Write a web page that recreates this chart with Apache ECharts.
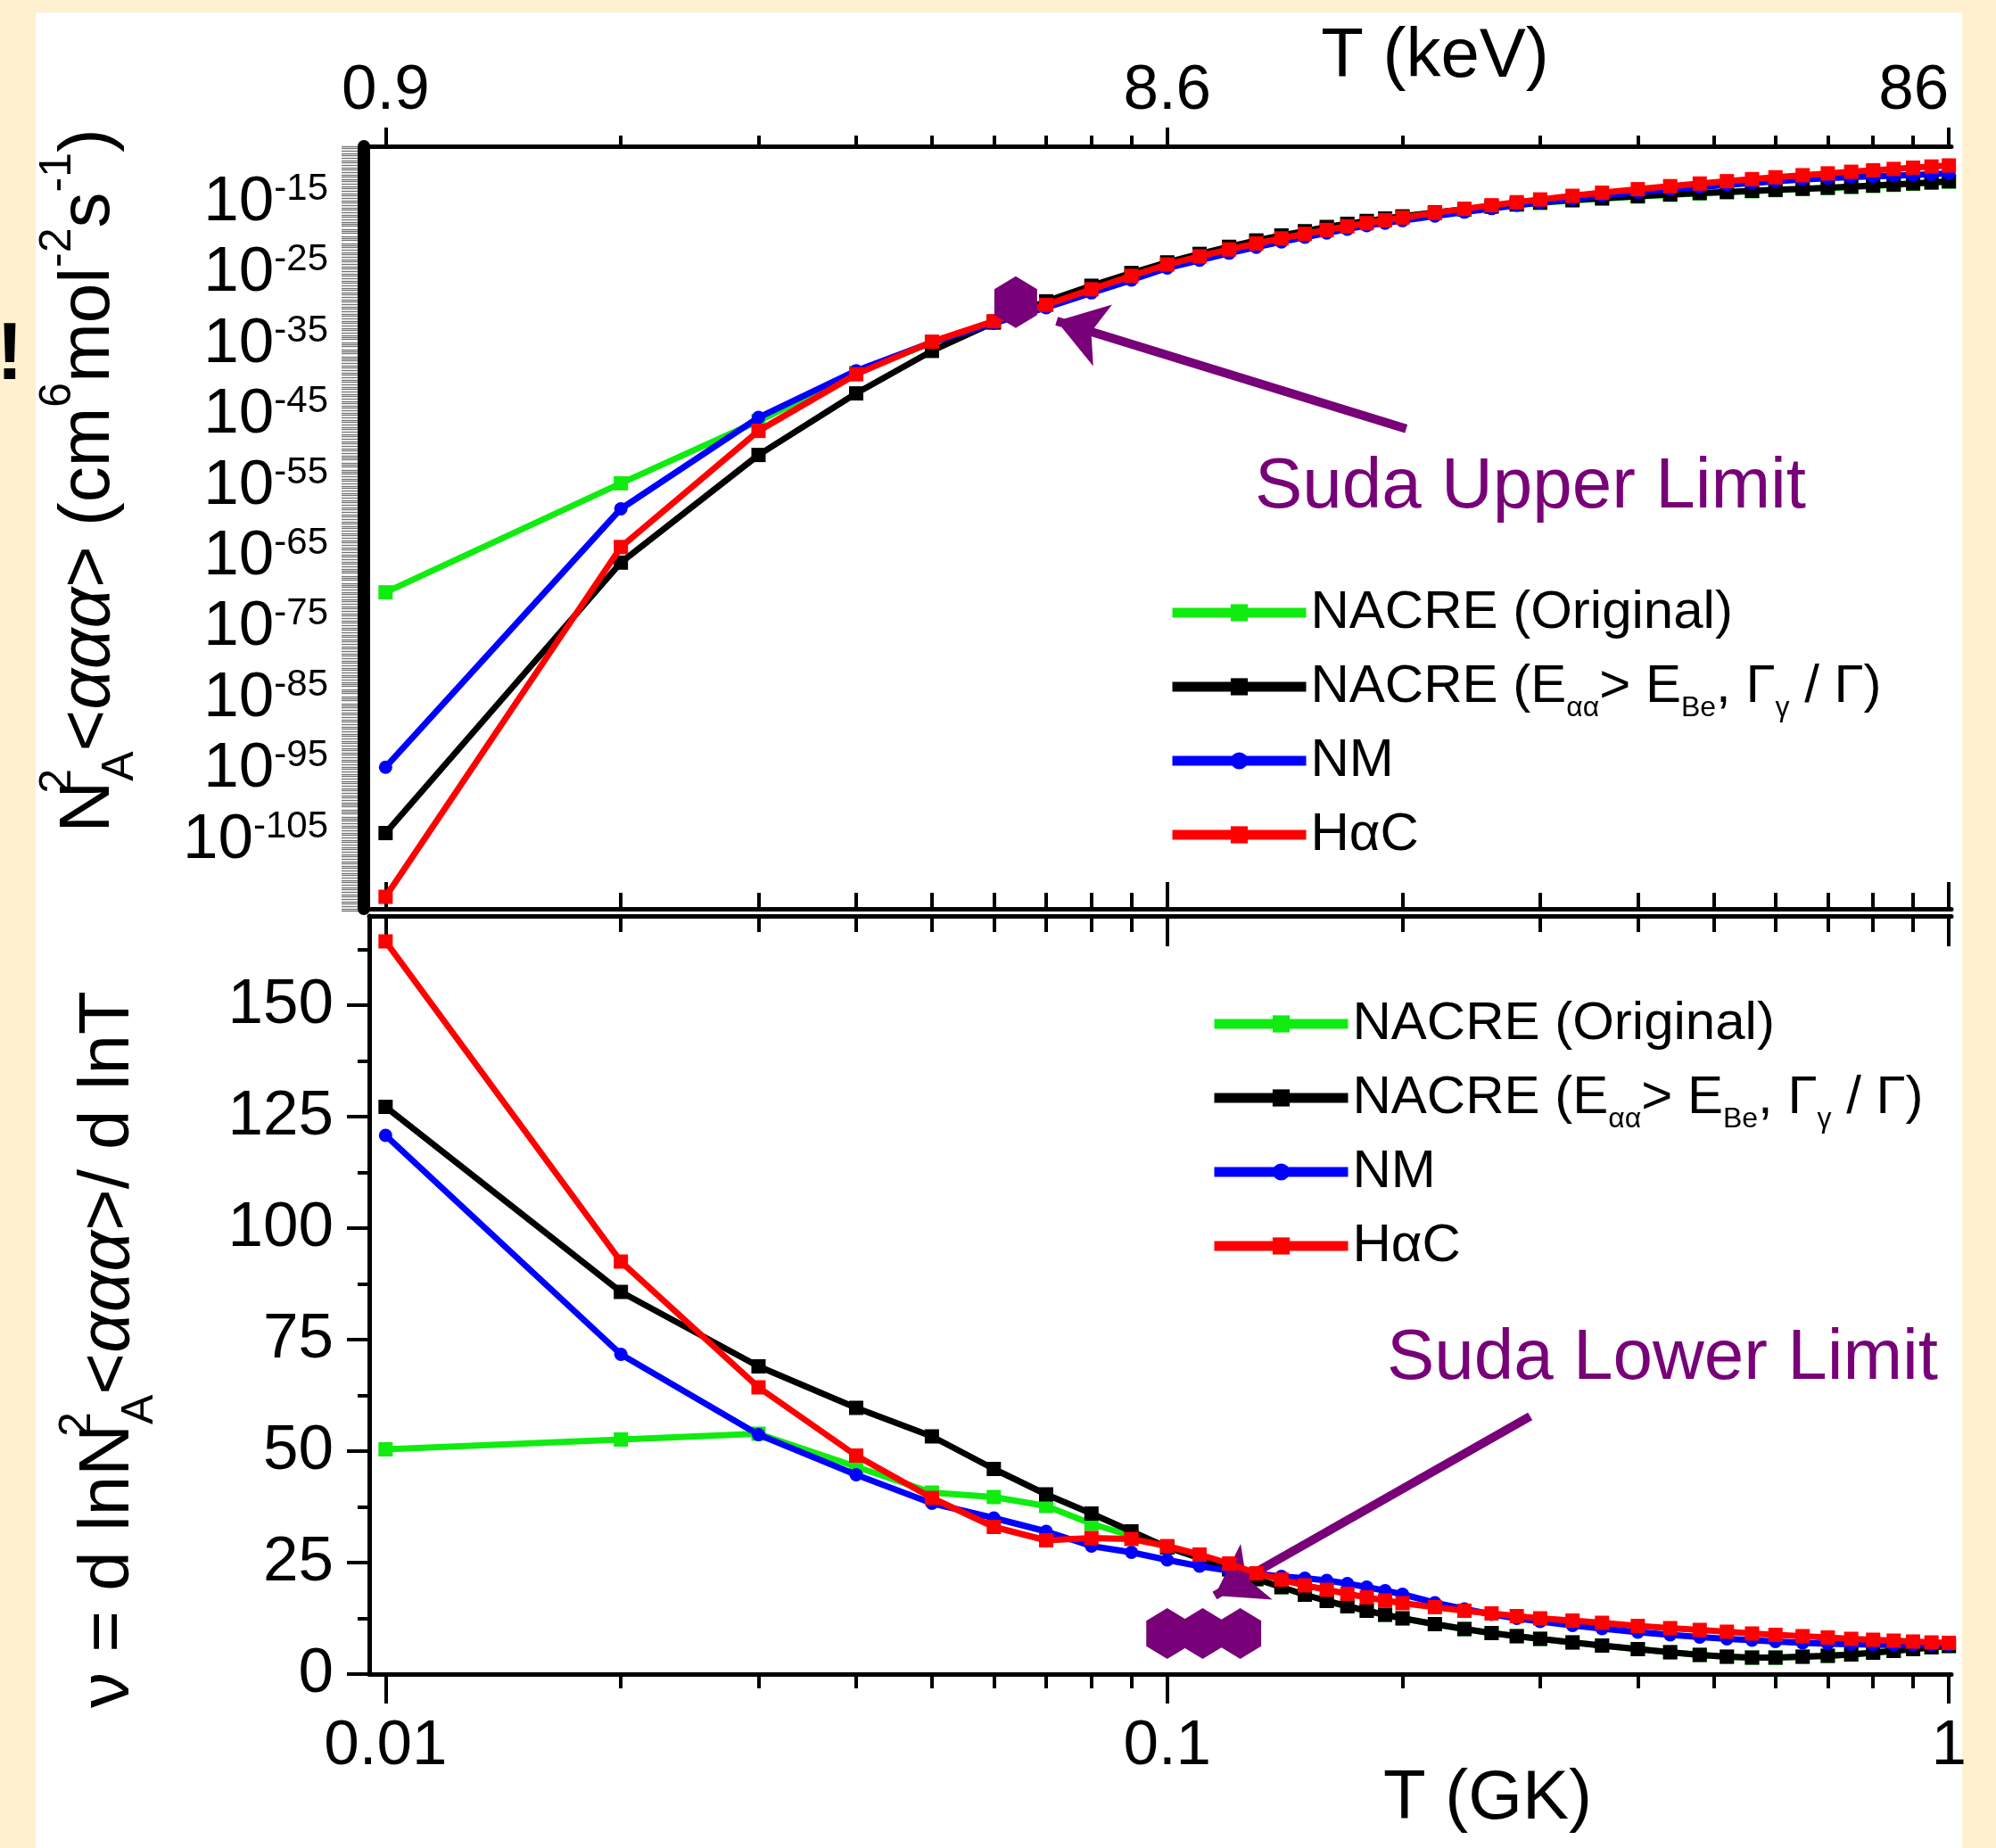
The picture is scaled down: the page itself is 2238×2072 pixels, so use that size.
<!DOCTYPE html>
<html>
<head>
<meta charset="utf-8">
<script src="https://cdn.jsdelivr.net/npm/echarts@6/dist/echarts.min.js"></script>
<style>
  html, body { margin: 0; padding: 0; background: #fff1cf; }
  #chart { width: 2238px; height: 2072px; }
</style>
</head>
<body>
<div id="chart"></div>
<script>
// ---- data -------------------------------------------------------------
// Temperature grid (GK) shared by every curve
const temperatureGK = [0.01,0.02,0.03,0.04,0.05,0.06,0.07,0.08,0.09,0.10,
  0.11,0.12,0.13,0.14,0.15,0.16,0.17,0.18,0.19,0.20,
  0.22,0.24,0.26,0.28,0.30,
  0.33,0.36,0.40,0.44,0.48,0.52,0.56,0.60,
  0.65,0.70,0.75,0.80,0.85,0.90,0.95,1.00];

// Upper panel: log10 of N_A^2<aaa> (cm^6 mol^-2 s^-1)
const log10Rate_nacreOriginal = [-70.0,-54.6,-45.8,-39.0,-34.7,-31.8,-29.1,-26.9,-25.0,-23.5,
  -22.25,-21.25,-20.35,-19.65,-19.05,-18.45,-18.0,-17.6,-17.25,-16.95,
  -16.4,-15.95,-15.55,-15.25,-15.0,
  -14.65,-14.4,-14.1,-13.85,-13.65,-13.5,-13.35,-13.2,
  -13.05,-12.9,-12.75,-12.6,-12.45,-12.3,-12.15,-12.0];
const log10Rate_nacreModified = [-104.0,-65.8,-50.6,-41.9,-35.9,-31.9,-28.9,-26.7,-24.9,-23.4,
  -22.2,-21.2,-20.3,-19.6,-19.0,-18.4,-17.95,-17.55,-17.2,-16.9,
  -16.35,-15.9,-15.5,-15.2,-14.95,
  -14.6,-14.35,-14.05,-13.8,-13.6,-13.45,-13.3,-13.15,
  -13.0,-12.85,-12.7,-12.55,-12.4,-12.25,-12.1,-11.95];
const log10Rate_nm = [-94.7,-58.2,-45.3,-38.7,-34.7,-32.0,-29.8,-27.7,-25.9,-24.2,
  -23.1,-22.1,-21.25,-20.5,-19.85,-19.25,-18.7,-18.2,-17.85,-17.5,
  -16.85,-16.3,-15.8,-15.35,-14.95,
  -14.45,-14.0,-13.5,-13.1,-12.75,-12.45,-12.2,-11.95,
  -11.7,-11.5,-11.35,-11.25,-11.15,-11.05,-10.95,-10.85];
const log10Rate_hac = [-113.0,-63.6,-47.2,-39.2,-34.6,-31.7,-29.4,-27.2,-25.3,-23.7,
  -22.55,-21.57,-20.73,-20.01,-19.37,-18.81,-18.31,-17.86,-17.45,-17.07,
  -16.40,-15.83,-15.33,-14.90,-14.51,
  -14.00,-13.56,-13.06,-12.63,-12.26,-11.93,-11.64,-11.38,
  -11.09,-10.83,-10.60,-10.39,-10.20,-10.02,-9.86,-9.71];

// Lower panel: temperature sensitivity nu = d ln rate / d ln T
const nu_nacreOriginal = [50.4,52.6,53.9,46.5,40.7,39.7,37.7,33.7,31.0,28.5,
  26.0,23.5,21.3,19.5,17.8,16.4,15.2,14.2,13.3,12.5,
  11.2,10.1,9.2,8.5,7.9,
  7.1,6.4,5.6,4.9,4.3,3.9,3.7,3.7,
  3.9,4.1,4.4,4.8,5.2,5.6,6.0,6.3];
const nu_nacreModified = [127.2,85.7,69.0,59.7,53.3,46.0,40.3,36.0,32.0,28.4,
  26.0,23.5,21.3,19.5,17.8,16.4,15.2,14.2,13.3,12.5,
  11.2,10.1,9.2,8.5,7.9,
  7.1,6.4,5.6,4.9,4.3,3.9,3.7,3.7,
  3.9,4.1,4.4,4.8,5.2,5.6,6.0,6.3];
const nu_nm = [120.8,71.7,53.7,44.7,38.3,35.0,32.0,28.7,27.3,25.6,
  24.2,23.2,22.5,21.9,21.5,21.0,20.3,19.5,18.7,17.9,
  16.0,14.6,13.4,12.5,11.8,
  10.9,10.2,9.4,8.8,8.3,7.9,7.6,7.3,
  7.0,6.8,6.7,6.6,6.5,6.5,6.5,6.5];
const nu_hac = [164.3,92.5,64.3,49.0,39.5,33.0,30.0,30.5,30.3,28.7,
  26.8,24.8,22.6,21.2,19.9,18.9,18.0,17.2,16.5,15.9,
  15.0,14.2,13.6,13.0,12.5,
  12.0,11.5,10.8,10.3,9.9,9.5,9.1,8.8,
  8.5,8.2,7.9,7.7,7.5,7.3,7.1,7.0];

// Suda limits
const sudaUpperT = [0.064];
const sudaUpperLog10Rate = [-29.0];
const sudaLowerT = [0.100, 0.111, 0.124];
const sudaLowerNu = [9.1, 9.1, 9.1];

// Arrow end points [T, value] (tail, head)
const upperArrowT = [0.2022, 0.0722];
const upperArrowLog10Rate = [-46.9, -31.7];
const lowerArrowT = [0.2913, 0.115];
const lowerArrowNu = [57.8, 17.6];

// Series names
const seriesNames = ['NACRE (Original)', 'NACRE (E\u03b1\u03b1 > EBe, \u0393\u03b3 / \u0393)', 'NM', 'H\u03b1C'];

// Tick labels
const majorTickT = [0.01, 0.1, 1];
const keVTickLabels = ['0.9', '8.6', '86'];
const gkTickLabels = ['0.01', '0.1', '1'];
const rateLabelExponents = [-15, -25, -35, -45, -55, -65, -75, -85, -95, -105];
const nuTickValues = [0, 25, 50, 75, 100, 125, 150];

// ---- styling ---------------------------------------------------------
const FONT = '"Liberation Sans", Arial, Helvetica, sans-serif';
const GREEN = '#10ec10', BLACK = '#000000', BLUE = '#0000ff', RED = '#ff0000';
const PURPLE = '#780078';
const seriesColors = [GREEN, BLACK, BLUE, RED];
const seriesSymbols = ['rect', 'rect', 'circle', 'rect'];
const seriesSymbolSizes = [16, 16, 15, 16];

const X_MIN = 0.00953, X_MAX = 1.0075;
const RATE_MIN = Math.pow(10, -114.7), RATE_MAX = 1e-7;

const minorTickT = [];
[0.01, 0.1].forEach(d => { for (let k = 2; k <= 9; k++) minorTickT.push(+(d * k).toFixed(4)); });

// dense tick marks on the logarithmic rate axis (1, 2, 5 in each decade)
const rateTickValues = [];
for (let e = -115; e <= -7; e++) {
  [1, 2, 5].forEach(k => rateTickValues.push(k * Math.pow(10, e)));
}
const nuMinorTicks = [12.5, 37.5, 62.5, 87.5, 112.5, 137.5, 162.5];

function tIndex(v) {
  return majorTickT.findIndex(t => Math.abs(Math.log10(t / v)) < 1e-6);
}

function xAxisDef(grid, position, opts) {
  return Object.assign({
    type: 'log', logBase: 10, gridIndex: grid, position: position,
    min: X_MIN, max: X_MAX,
    splitLine: { show: false },
    axisLine: { show: false, onZero: false, lineStyle: { color: '#000', width: 5 } },
    axisLabel: { show: false },
    axisTick: { show: false }
  }, opts);
}

const xAxes = [
  // upper panel, top edge: keV labels + major ticks
  xAxisDef(0, 'top', {
    axisLine: { show: true, onZero: false, lineStyle: { color: '#000', width: 5 } },
    axisTick: { show: true, inside: false, length: 21, customValues: majorTickT, lineStyle: { color: '#000', width: 4 } },
    axisLabel: { show: true, customValues: majorTickT, margin: 26, fontSize: 71, fontFamily: FONT, color: '#000',
      interval: 0, showMinLabel: true, showMaxLabel: true,
      alignMaxLabel: 'right', formatter: v => keVTickLabels[tIndex(v)] }
  }),
  xAxisDef(0, 'top', {
    axisTick: { show: true, inside: false, length: 12, customValues: minorTickT, lineStyle: { color: '#000', width: 4 } }
  }),
  // upper panel, bottom edge
  xAxisDef(0, 'bottom', {
    axisLine: { show: true, onZero: false, lineStyle: { color: '#000', width: 5 } },
    axisTick: { show: true, inside: true, length: 30, customValues: majorTickT, lineStyle: { color: '#000', width: 4 } }
  }),
  xAxisDef(0, 'bottom', {
    axisTick: { show: true, inside: true, length: 18, customValues: minorTickT, lineStyle: { color: '#000', width: 4 } }
  }),
  // lower panel, bottom edge: GK labels
  xAxisDef(1, 'bottom', {
    axisLine: { show: true, onZero: false, lineStyle: { color: '#000', width: 5 } },
    axisTick: { show: true, inside: false, length: 33, customValues: majorTickT, lineStyle: { color: '#000', width: 4 } },
    axisLabel: { show: true, customValues: majorTickT, margin: 46, fontSize: 71, fontFamily: FONT, color: '#000',
      interval: 0, showMinLabel: true, showMaxLabel: true,
      formatter: v => gkTickLabels[tIndex(v)] }
  }),
  xAxisDef(1, 'bottom', {
    axisTick: { show: true, inside: false, length: 16, customValues: minorTickT, lineStyle: { color: '#000', width: 4 } }
  }),
  // lower panel, top edge
  xAxisDef(1, 'top', {
    axisLine: { show: true, onZero: false, lineStyle: { color: '#000', width: 5 } },
    axisTick: { show: true, inside: true, length: 34, customValues: majorTickT, lineStyle: { color: '#000', width: 4 } }
  }),
  xAxisDef(1, 'top', {
    axisTick: { show: true, inside: true, length: 18, customValues: minorTickT, lineStyle: { color: '#000', width: 4 } }
  })
];

const yAxes = [
  {
    type: 'log', logBase: 10, gridIndex: 0, position: 'left', offset: 6,
    min: RATE_MIN, max: RATE_MAX,
    splitLine: { show: false },
    axisLine: { show: true, onZero: false, lineStyle: { color: '#000', width: 14 } },
    axisTick: { show: true, inside: false, length: 25, customValues: rateTickValues,
      lineStyle: { color: '#000', width: 1.3, opacity: 0.55 } },
    axisLabel: {
      show: true, margin: 40, color: '#000', fontFamily: FONT,
      interval: 0, showMinLabel: true, showMaxLabel: true, hideOverlap: false,
      customValues: rateLabelExponents.map(e => Math.pow(10, e)),
      formatter: v => '{b|10}{p|' + Math.round(Math.log10(v)) + '}',
      rich: {
        b: { fontSize: 71, fontFamily: FONT, lineHeight: 72, color: '#000' },
        p: { fontSize: 42, fontFamily: FONT, lineHeight: 24, verticalAlign: 'top', color: '#000' }
      }
    }
  },
  {
    type: 'value', gridIndex: 1, position: 'left', min: 0, max: 170,
    splitLine: { show: false },
    axisLine: { show: true, onZero: false, lineStyle: { color: '#000', width: 5 } },
    axisTick: { show: true, inside: false, length: 25, customValues: nuTickValues, lineStyle: { color: '#000', width: 4 } },
    axisLabel: { show: true, margin: 40, customValues: nuTickValues, fontSize: 71, fontFamily: FONT, color: '#000',
      interval: 0, showMinLabel: true, showMaxLabel: true }
  },
  {
    type: 'value', gridIndex: 1, position: 'left', min: 0, max: 170,
    splitLine: { show: false },
    axisLine: { show: false },
    axisLabel: { show: false },
    axisTick: { show: true, inside: false, length: 13, customValues: nuMinorTicks, lineStyle: { color: '#000', width: 4 } }
  }
];

// ---- series ----------------------------------------------------------
const rateSets = [log10Rate_nacreOriginal, log10Rate_nacreModified, log10Rate_nm, log10Rate_hac];
const nuSets = [nu_nacreOriginal, nu_nacreModified, nu_nm, nu_hac];

const series = [];
seriesNames.forEach((name, i) => {
  const common = {
    type: 'line', name: name, symbol: seriesSymbols[i], symbolSize: seriesSymbolSizes[i],
    lineStyle: { color: seriesColors[i], width: 7 },
    itemStyle: { color: seriesColors[i] },
    z: 2 + i, silent: true
  };
  series.push(Object.assign({}, common, {
    xAxisIndex: 0, yAxisIndex: 0,
    data: temperatureGK.map((t, k) => [t, Math.pow(10, rateSets[i][k])])
  }));
  series.push(Object.assign({}, common, {
    xAxisIndex: 4, yAxisIndex: 1,
    data: temperatureGK.map((t, k) => [t, nuSets[i][k]])
  }));
});

const HEXAGON = 'path://M0,-1 L0.866,-0.5 L0.866,0.5 L0,1 L-0.866,0.5 L-0.866,-0.5 Z';
const arrowLine = (from, to) => ({
  silent: true, symbol: ['none', 'arrow'], symbolSize: 54,
  label: { show: false },
  lineStyle: { color: PURPLE, width: 10, type: 'solid', opacity: 1 },
  itemStyle: { color: PURPLE },
  data: [[{ coord: from }, { coord: to }]]
});

series.push({
  type: 'scatter', name: 'Suda Upper Limit', xAxisIndex: 0, yAxisIndex: 0, z: 10, silent: true,
  symbol: HEXAGON, symbolSize: [48, 58], itemStyle: { color: PURPLE, opacity: 1 },
  data: sudaUpperT.map((t, k) => [t, Math.pow(10, sudaUpperLog10Rate[k])]),
  markLine: arrowLine([upperArrowT[0], Math.pow(10, upperArrowLog10Rate[0])],
                      [upperArrowT[1], Math.pow(10, upperArrowLog10Rate[1])])
});
series.push({
  type: 'scatter', name: 'Suda Lower Limit', xAxisIndex: 4, yAxisIndex: 1, z: 10, silent: true,
  symbol: HEXAGON, symbolSize: [47, 57], itemStyle: { color: PURPLE, opacity: 1 },
  data: sudaLowerT.map((t, k) => [t, sudaLowerNu[k]]),
  markLine: arrowLine([lowerArrowT[0], lowerArrowNu[0]], [lowerArrowT[1], lowerArrowNu[1]])
});

// ---- legends ---------------------------------------------------------
const legendRich = {
  t: { fontSize: 60, fontFamily: FONT, lineHeight: 80, color: '#000' },
  s: { fontSize: 32, fontFamily: FONT, lineHeight: 40, verticalAlign: 'bottom', color: '#000' }
};
const legendText = {};
legendText[seriesNames[1]] = '{t|NACRE (E}{s|\u03b1\u03b1}{t|> E}{s|Be}{t|, \u0393}{s|\u03b3}{t| / \u0393)}';
const legendDef = (left, top) => ({
  data: seriesNames, orient: 'vertical', left: left, top: top,
  itemWidth: 150, itemHeight: 24, itemGap: 3, selectedMode: false,
  lineStyle: { width: 11 },
  formatter: name => legendText[name] || ('{t|' + name + '}'),
  textStyle: { fontSize: 60, fontFamily: FONT, color: '#000', lineHeight: 80, rich: legendRich }
});

// ---- annotations -----------------------------------------------------
const titleRich = {
  b: { fontSize: 80, fontFamily: FONT, lineHeight: 120, fill: '#000' },
  i: { fontSize: 80, fontFamily: FONT, fontStyle: 'italic', lineHeight: 120, fill: '#000' },
  p: { fontSize: 50, fontFamily: FONT, lineHeight: 50, verticalAlign: 'top', fill: '#000' },
  p0: { fontSize: 50, fontFamily: FONT, lineHeight: 50, verticalAlign: 'top', width: 0, fill: '#000' },
  q: { fontSize: 50, fontFamily: FONT, lineHeight: 50, verticalAlign: 'bottom', fill: '#000' }
};

const graphics = [
  { type: 'rect', z: -10, silent: true, shape: { x: 40, y: 14, width: 2160, height: 2058 }, style: { fill: '#ffffff' } },
  { type: 'text', silent: true, x: -4, y: 400,
    style: { text: '!', fontSize: 90, fontWeight: 'bold', fontFamily: FONT, fill: '#000', align: 'left', verticalAlign: 'middle' } },
  { type: 'text', silent: true, x: 1609, y: 64,
    style: { text: 'T (keV)', fontSize: 78, fontFamily: FONT, fill: '#000', align: 'center', verticalAlign: 'middle' } },
  { type: 'text', silent: true, x: 1668, y: 2017,
    style: { text: 'T (GK)', fontSize: 78, fontFamily: FONT, fill: '#000', align: 'center', verticalAlign: 'middle' } },
  { type: 'text', silent: true, x: 100, y: 539, rotation: Math.PI / 2,
    style: { text: '{b|N}{p0|2}{q|A}{b|<}{i|\u03b1\u03b1\u03b1}{b|> (cm}{p|6}{b|mol}{p|-2}{b|s}{p|-1}{b|)}',
      rich: titleRich, fill: '#000', align: 'center', verticalAlign: 'middle' } },
  { type: 'text', silent: true, x: 122, y: 1513, rotation: Math.PI / 2,
    style: { text: '{b|\u03bd = d lnN}{p0|2}{q|A}{b|<}{i|\u03b1\u03b1\u03b1}{b|>/ d lnT}',
      rich: titleRich, fill: '#000', align: 'center', verticalAlign: 'middle' } },
  { type: 'text', silent: true, x: 1716, y: 547,
    style: { text: 'Suda Upper Limit', fontSize: 80, fontFamily: FONT, fill: PURPLE, align: 'center', verticalAlign: 'middle' } },
  { type: 'text', silent: true, x: 1864, y: 1524,
    style: { text: 'Suda Lower Limit', fontSize: 80, fontFamily: FONT, fill: PURPLE, align: 'center', verticalAlign: 'middle' } }
];

const chart = echarts.init(document.getElementById('chart'), null, { renderer: 'canvas' });
chart.setOption({
  animation: false,
  backgroundColor: '#fff1cf',
  textStyle: { fontFamily: FONT },
  grid: [
    { left: 414, right: 50, top: 164, height: 855 },
    { left: 414, right: 50, top: 1027, height: 850 }
  ],
  xAxis: xAxes,
  yAxis: yAxes,
  legend: [legendDef(1304, 642), legendDef(1351, 1103)],
  graphic: graphics,
  series: series
});
</script>
</body>
</html>
